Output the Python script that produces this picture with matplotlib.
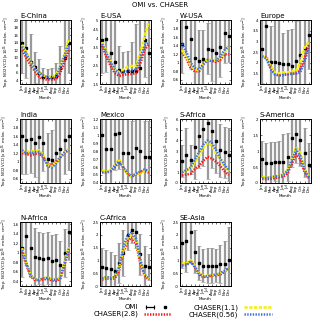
import matplotlib
matplotlib.use("Agg")
import matplotlib.pyplot as plt
import numpy as np
from matplotlib.ticker import FormatStrFormatter
from matplotlib.lines import Line2D
from matplotlib.legend_handler import HandlerLine2D, HandlerTuple

months = ["Jan", "Feb", "Mar", "Apr", "May", "Jun",
          "Jul", "Aug", "Sep", "Oct", "Nov", "Dec"]

regions = ["E-China", "E-USA", "W-USA", "Europe",
           "India", "Mexico", "S-Africa", "S-America",
           "N-Africa", "C-Africa", "SE-Asia"]

omi = {
    "E-China": [14, 12.5, 9, 7.5, 6, 5, 4.8, 4.8, 5.2, 7.2, 10, 14],
    "E-USA": [3.9, 3.95, 3.2, 2.7, 2.3, 2.2, 2.2, 2.2, 2.2, 2.4, 3.9, 3.2],
    "W-USA": [1.45, 1.83, 1.55, 1.12, 1.05, 1.1, 1.33, 1.3, 1.23, 1.37, 1.7, 1.62],
    "Europe": [2.65, 3.75, 2.05, 2.05, 2.0, 1.95, 1.95, 1.85, 2.1, 2.35, 2.7, 3.3],
    "India": [1.6, 1.5, 1.53, 1.43, 1.58, 1.45, 1.07, 1.05, 1.2, 1.3, 1.5, 1.6],
    "Mexico": [1.0, 0.82, 0.83, 1.01, 1.03, 0.77, 0.78, 0.72, 0.84, 0.8, 0.72, 0.72],
    "S-Africa": [2.1, 2.6, 2.2, 3.35, 4.4, 5.1, 5.6, 4.9, 3.9, 3.05, 2.9, 2.65],
    "S-America": [0.75, 0.63, 0.64, 0.67, 0.65, 0.67, 0.8, 1.4, 1.52, 1.33, 0.95, 0.55],
    "N-Africa": [1.1, 1.35, 1.1, 0.92, 0.9, 0.87, 0.9, 0.83, 0.85, 0.75, 1.0, 1.45],
    "C-Africa": [0.75, 0.7, 0.65, 0.6, 0.9, 1.3, 2.0, 2.2, 2.1, 1.25, 0.8, 0.75],
    "SE-Asia": [1.7, 1.75, 2.1, 1.35, 0.9, 0.8, 0.8, 0.8, 0.8, 0.85, 0.85, 1.0],
}

omi_err = {
    "E-China": [8, 8, 7.3, 4.1, 3.7, 2.2, 2.2, 2.4, 3.4, 6, 10, 8],
    "E-USA": [1.8, 1.8, 2.0, 2.5, 1.3, 1.05, 1.1, 1.6, 2.6, 2.8, 2.0, 2.0],
    "W-USA": [0.7, 0.6, 0.7, 0.9, 0.72, 0.68, 0.6, 0.72, 0.8, 0.7, 0.7, 0.6],
    "Europe": [1.6, 1.5, 1.7, 2.0, 2.0, 1.45, 1.6, 1.75, 1.85, 1.9, 1.8, 1.6],
    "India": [0.9, 0.8, 0.8, 0.8, 1.1, 0.68, 0.6, 0.7, 0.8, 0.8, 0.8, 0.8],
    "Mexico": [0.45, 0.45, 0.45, 0.45, 0.45, 0.45, 0.45, 0.45, 0.45, 0.45, 0.45, 0.45],
    "S-Africa": [1.5, 2.6, 1.4, 3, 3, 3.5, 5.2, 3.5, 3, 2.5, 2.4, 2.5],
    "S-America": [0.55, 0.62, 0.64, 0.61, 0.65, 0.85, 0.75, 0.9, 0.9, 0.8, 0.77, 0.7],
    "N-Africa": [0.6, 0.6, 0.6, 0.6, 0.55, 0.55, 0.55, 0.55, 0.55, 0.5, 0.5, 0.6],
    "C-Africa": [0.75, 0.7, 0.7, 0.6, 0.8, 0.9, 0.6, 0.5, 0.6, 0.8, 0.75, 0.5],
    "SE-Asia": [1.0, 1.2, 1.2, 0.85, 0.65, 0.65, 0.7, 0.7, 0.65, 0.75, 0.9, 1.3],
}

chaser_28 = {
    "E-China": [12, 10, 8, 6.5, 5, 4.3, 4.2, 4.2, 4.3, 6, 9, 12],
    "E-USA": [3.6, 3.0, 2.5, 2.1, 1.95, 2.0, 2.05, 2.05, 2.1, 2.6, 3.4, 3.65],
    "W-USA": [1.25, 1.1, 0.88, 0.8, 0.8, 0.95, 1.07, 1.05, 1.02, 1.07, 1.2, 1.2],
    "Europe": [2.3, 2.25, 1.8, 1.5, 1.42, 1.45, 1.48, 1.5, 1.5, 1.7, 2.2, 2.85],
    "India": [1.2, 1.18, 1.15, 1.18, 1.2, 1.1, 0.95, 0.92, 1.0, 1.1, 1.2, 1.28],
    "Mexico": [0.54, 0.53, 0.55, 0.6, 0.66, 0.6, 0.52, 0.48, 0.51, 0.53, 0.55, 0.53],
    "S-Africa": [0.7, 0.8, 0.85, 1.3, 1.6, 2.1, 2.45, 2.3, 2.0, 1.6, 1.1, 0.75],
    "S-America": [0.12, 0.12, 0.13, 0.15, 0.18, 0.2, 0.3, 0.6, 0.9, 0.75, 0.35, 0.15],
    "N-Africa": [1.02, 0.75, 0.5, 0.43, 0.42, 0.44, 0.45, 0.42, 0.41, 0.45, 0.75, 1.05],
    "C-Africa": [0.25, 0.3, 0.28, 0.3, 0.6, 1.3, 1.75, 1.9, 1.65, 0.9, 0.4, 0.25],
    "SE-Asia": [0.85, 0.85, 0.95, 0.75, 0.45, 0.35, 0.38, 0.4, 0.42, 0.45, 0.55, 0.7],
}

chaser_11 = {
    "E-China": [13.5, 11.5, 9, 7, 6, 5.3, 5, 4.8, 5.5, 8, 11, 15],
    "E-USA": [3.8, 3.3, 2.8, 2.3, 2.15, 2.3, 2.45, 2.5, 2.5, 3.2, 4.1, 4.9],
    "W-USA": [1.3, 1.15, 0.93, 0.85, 0.82, 0.97, 1.08, 1.06, 1.05, 1.12, 1.25, 1.4],
    "Europe": [2.3, 2.2, 1.85, 1.55, 1.5, 1.55, 1.55, 1.6, 1.6, 2.0, 2.7, 3.0],
    "India": [1.25, 1.22, 1.25, 1.25, 1.27, 1.15, 0.93, 0.88, 0.98, 1.12, 1.22, 1.3],
    "Mexico": [0.56, 0.54, 0.56, 0.63, 0.7, 0.6, 0.51, 0.48, 0.52, 0.52, 0.55, 0.56],
    "S-Africa": [1.0, 1.2, 1.3, 2.0, 2.6, 3.3, 3.8, 3.5, 2.8, 2.2, 1.6, 1.1],
    "S-America": [0.18, 0.17, 0.18, 0.2, 0.23, 0.27, 0.4, 0.75, 1.12, 0.95, 0.45, 0.2],
    "N-Africa": [1.1, 0.8, 0.53, 0.45, 0.44, 0.47, 0.48, 0.45, 0.44, 0.48, 0.8, 1.12],
    "C-Africa": [0.3, 0.35, 0.33, 0.35, 0.7, 1.4, 1.9, 2.0, 1.75, 1.0, 0.45, 0.3],
    "SE-Asia": [0.9, 0.88, 1.02, 0.8, 0.5, 0.4, 0.4, 0.42, 0.45, 0.5, 0.58, 0.68],
}

chaser_056 = {
    "E-China": [13, 11, 9, 7.2, 6, 5.3, 4.8, 4.5, 5, 7.5, 10.5, 13.5],
    "E-USA": [3.7, 3.2, 2.7, 2.3, 2.1, 2.15, 2.2, 2.25, 2.3, 2.9, 3.6, 3.8],
    "W-USA": [1.45, 1.25, 1.0, 0.88, 0.85, 0.97, 1.06, 1.04, 1.05, 1.15, 1.3, 1.38],
    "Europe": [2.3, 2.2, 1.7, 1.45, 1.4, 1.42, 1.45, 1.48, 1.5, 1.55, 2.05, 2.7],
    "India": [1.27, 1.2, 1.2, 1.22, 1.22, 1.12, 0.9, 0.86, 0.95, 1.1, 1.22, 1.28],
    "Mexico": [0.53, 0.53, 0.55, 0.62, 0.67, 0.59, 0.52, 0.48, 0.52, 0.54, 0.57, 0.55],
    "S-Africa": [1.0, 1.2, 1.45, 2.2, 2.9, 3.6, 4.0, 3.8, 3.1, 2.3, 1.7, 1.2],
    "S-America": [0.15, 0.15, 0.17, 0.2, 0.22, 0.25, 0.38, 0.72, 1.05, 0.85, 0.42, 0.18],
    "N-Africa": [1.06, 0.78, 0.52, 0.44, 0.43, 0.46, 0.47, 0.44, 0.43, 0.47, 0.78, 1.09],
    "C-Africa": [0.3, 0.35, 0.32, 0.35, 0.75, 1.5, 2.0, 2.1, 1.85, 1.05, 0.45, 0.3],
    "SE-Asia": [0.8, 0.8, 0.98, 0.75, 0.48, 0.38, 0.38, 0.42, 0.45, 0.5, 0.6, 0.7],
}

ylims = {
    "E-China": (3, 20, 2), "E-USA": (1.5, 5, 0.5), "W-USA": (0.5, 2, 0.2),
    "Europe": (1, 4, 0.5), "India": (0.5, 2, 0.2), "Mexico": (0.4, 1.2, 0.1),
    "S-Africa": (0, 6, 1), "S-America": (0, 2, 0.5), "N-Africa": (0.3, 1.65, 0.2),
    "C-Africa": (0, 2.5, 0.5), "SE-Asia": (0, 2.5, 0.5),
}

red, yellow, blue = "#ff1010", "#f5f000", "#3a6ee8"
dot = (0, (0.55, 0.55))
dash = (0, (1.3, 0.6))

fig = plt.figure(figsize=(3.2, 3.21), dpi=100)
fig.text(0.5, 0.983, "OMI vs. CHASER", ha="center", va="center", fontsize=5)

lefts = [0.0625, 0.3125, 0.5625, 0.8125]
bottoms = [0.738, 0.430, 0.109]
w, h = 0.159, 0.199
x = np.arange(1, 13)

for i, reg in enumerate(regions):
    r, c = divmod(i, 4)
    ax = fig.add_axes([lefts[c], bottoms[r], w, h])
    ax.errorbar(x, omi[reg], yerr=omi_err[reg], fmt="s", color="black",
                ms=1.7, ecolor="0.6", elinewidth=1.6, capsize=1.2,
                capthick=0.5, zorder=2)
    ax.plot(x, chaser_28[reg], color=red, lw=1.8, ls=dot, zorder=3)
    ax.plot(x, chaser_11[reg], color=yellow, lw=1.8, ls=dash, zorder=4)
    ax.plot(x, chaser_056[reg], color=blue, lw=1.8, ls=dot, zorder=5)
    lo, hi, st = ylims[reg]
    ax.set_ylim(lo, hi)
    first = np.ceil(lo / st - 1e-9) * st
    ax.set_yticks(np.arange(first, hi + 1e-9, st))
    ax.yaxis.set_major_formatter(FormatStrFormatter("%g"))
    ax.set_xlim(0.5, 12.5)
    ax.set_xticks(x)
    ax.set_xticklabels(months, rotation=90)
    ax.tick_params(direction="in", top=True, right=True, labelsize=2.8,
                   length=1.5, width=0.4, pad=1)
    for sp in ax.spines.values():
        sp.set_linewidth(0.7)
    ax.set_title(reg, loc="left", fontsize=5, pad=1.5)
    ax.set_xlabel("Month", fontsize=3, labelpad=1.5)
    ax.set_ylabel("Trop. NO2 VCD [x10$^{15}$ molec. cm$^{-2}$]",
                  fontsize=2.8, labelpad=1.5)

# OMI legend key: line with end caps and a square in the middle
omi_caps = Line2D([], [], color="black", lw=0.9, marker="|", ms=3.5,
                  mew=0.8)
omi_mark = Line2D([], [], color="black", lw=0, marker="s", ms=2)
handles = [
    (omi_caps, omi_mark),
    Line2D([], [], color=red, lw=1.8, ls=dot),
    Line2D([], [], color=yellow, lw=1.8, ls=dash),
    Line2D([], [], color=blue, lw=1.8, ls=dot),
]
labels = ["OMI", "CHASER(2.8)", "CHASER(1.1)", "CHASER(0.56)"]
fig.legend(handles, labels, ncol=2, loc="lower center",
           bbox_to_anchor=(0.57, -0.01), frameon=False, markerfirst=False,
           fontsize=5, handlelength=4, columnspacing=2.5, labelspacing=0.1,
           handletextpad=0.8,
           handler_map={omi_caps: HandlerLine2D(numpoints=2),
                        omi_mark: HandlerLine2D(numpoints=1),
                        tuple: HandlerTuple(ndivide=None)})

fig.savefig("out.png", dpi=100)
